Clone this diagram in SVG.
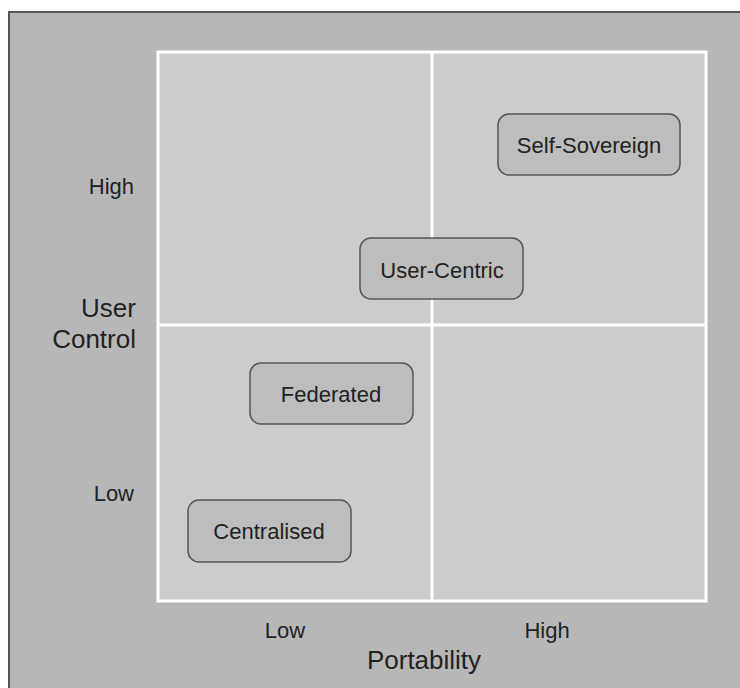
<svg xmlns="http://www.w3.org/2000/svg" width="740" height="688" viewBox="0 0 740 688">
  <style>
    text { font-family: "Liberation Sans", Arial, sans-serif; fill: #222; }
    .tick { font-size: 22px; }
    .axis { font-size: 26px; }
    .node rect { fill: #bdbdbd; stroke: #555; stroke-width: 1.5; }
    .node text { font-size: 22px; text-anchor: middle; }
    .grid { stroke: #fff; stroke-width: 3; fill: none; }
  </style>
  <!-- page frame -->
  <rect x="0" y="0" width="740" height="688" fill="#fff"/>
  <rect x="9" y="12" width="740" height="690" fill="#b7b7b7" stroke="#555" stroke-width="2"/>
  <!-- quadrant panel -->
  <rect x="158" y="52" width="548" height="549" fill="#cccccc"/>
  <g id="grid" class="grid">
    <rect x="158" y="52" width="548" height="549"/>
    <line x1="432" y1="52" x2="432" y2="601"/>
    <line x1="158" y1="325" x2="706" y2="325"/>
  </g>
  <!-- axis labels -->
  <g id="axis-y">
    <text class="tick" x="134" y="194" text-anchor="end">High</text>
    <text class="tick" x="134" y="501" text-anchor="end">Low</text>
    <text class="axis" x="136" y="317" text-anchor="end">User</text>
    <text class="axis" x="136" y="348" text-anchor="end">Control</text>
  </g>
  <g id="axis-x">
    <text class="tick" x="285" y="638" text-anchor="middle">Low</text>
    <text class="tick" x="547" y="638" text-anchor="middle">High</text>
    <text class="axis" x="424" y="669" text-anchor="middle">Portability</text>
  </g>
  <g id="connectors"></g>
  <g id="self-sovereign" class="node">
    <rect x="498" y="114" width="182" height="61" rx="11"/>
    <text x="589" y="153">Self-Sovereign</text>
  </g>
  <g id="user-centric" class="node">
    <rect x="360" y="238" width="163" height="61" rx="11"/>
    <text x="442" y="278">User-Centric</text>
  </g>
  <g id="federated" class="node">
    <rect x="250" y="363" width="163" height="61" rx="11"/>
    <text x="331" y="402">Federated</text>
  </g>
  <g id="centralised" class="node">
    <rect x="188" y="500" width="163" height="62" rx="11"/>
    <text x="269" y="539">Centralised</text>
  </g>
</svg>
